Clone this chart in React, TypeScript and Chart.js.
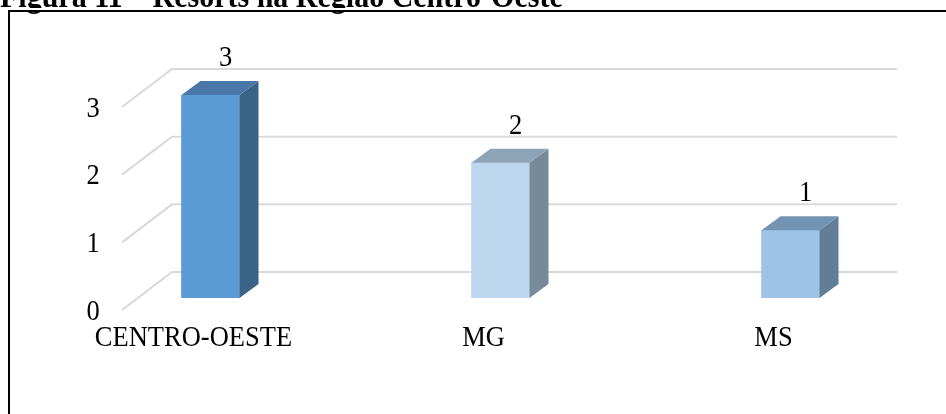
import { useEffect, useRef } from 'react';
import { Chart, registerables } from 'chart.js';

Chart.register(...registerables);

// ---- data ----
const title = 'Figura 11 – Resorts na Região Centro-Oeste';
const categories = ['CENTRO-OESTE', 'MG', 'MS'];
const resorts = [3, 2, 1];
const axisMax = 3;
const axisStep = 1;

// ---- styles ----
const FRONT = ['#5B9BD5', '#BDD7EE', '#9DC3E6'];
const TOP = ['#4877A8', '#8DA3B7', '#7393B3'];
const SIDE = ['#396387', '#778A9B', '#617D98'];
const GRID = '#d9d9d9';
const TEXT = '#000000';
const FONT = '"Liberation Serif", "Times New Roman", serif';
const LABEL_SIZE = 26.5;
const TEXT_STRETCH = 1.1; // glyphs are slightly taller than wide

// box depth of each bar
const DEPTH_X = 19;
const DEPTH_Y = 14;
// floor edges relative to the plane the bars stand on
const FLOOR_FRONT = { dx: -16, dy: 12 };
const FLOOR_BACK = { dx: 34, dy: -26 };

function drawText(ctx: CanvasRenderingContext2D, text: string, x: number, baseline: number) {
  ctx.save();
  ctx.translate(x, baseline);
  ctx.scale(1, TEXT_STRETCH);
  ctx.fillText(text, 0, 0);
  ctx.restore();
}

const threeD = {
  id: 'threeD',
  beforeDraw(chart: any) {
    const { ctx, width, height } = chart;
    ctx.save();
    ctx.fillStyle = '#ffffff';
    ctx.fillRect(0, 0, width, height);
    // heading, partly above the frame
    ctx.fillStyle = TEXT;
    ctx.font = `bold 30px ${FONT}`;
    ctx.textAlign = 'left';
    ctx.textBaseline = 'alphabetic';
    drawText(ctx, title, 0, 7);
    // frame
    ctx.fillStyle = '#ffffff';
    ctx.fillRect(0, 8, width, 2);
    ctx.fillStyle = '#000000';
    ctx.fillRect(8, 10, width, 2);
    ctx.fillRect(8, 10, 2, height);
    ctx.restore();
  },
  beforeDatasetsDraw(chart: any) {
    const { ctx, chartArea } = chart;
    const y = chart.scales.y;
    const l = chartArea.left;
    const r = chartArea.right;
    const values: number[] = y.ticks && y.ticks.length
      ? y.ticks.map((t: any) => t.value)
      : [];
    ctx.save();
    ctx.strokeStyle = GRID;
    ctx.lineWidth = 2;
    ctx.fillStyle = TEXT;
    ctx.font = `${LABEL_SIZE}px ${FONT}`;
    ctx.textAlign = 'center';
    ctx.textBaseline = 'alphabetic';
    values.forEach((v) => {
      const py = y.getPixelForValue(v);
      ctx.beginPath();
      ctx.moveTo(l + FLOOR_FRONT.dx, py + FLOOR_FRONT.dy);
      ctx.lineTo(l + FLOOR_BACK.dx, py + FLOOR_BACK.dy);
      ctx.lineTo(r + FLOOR_BACK.dx, py + FLOOR_BACK.dy);
      ctx.stroke();
      drawText(ctx, String(v), l - 45, py + FLOOR_FRONT.dy + 9.5);
    });
    ctx.restore();
  },
  afterDatasetsDraw(chart: any) {
    const { ctx } = chart;
    const meta = chart.getDatasetMeta(0);
    ctx.save();
    meta.data.forEach((el: any, i: number) => {
      const { x, y, base, width } = el.getProps(['x', 'y', 'base', 'width'], true);
      const x0 = x - width / 2;
      const x1 = x + width / 2;
      // side face
      ctx.fillStyle = SIDE[i];
      ctx.beginPath();
      ctx.moveTo(x1, y);
      ctx.lineTo(x1 + DEPTH_X, y - DEPTH_Y);
      ctx.lineTo(x1 + DEPTH_X, base - DEPTH_Y);
      ctx.lineTo(x1, base);
      ctx.closePath();
      ctx.fill();
      // top face
      ctx.fillStyle = TOP[i];
      ctx.beginPath();
      ctx.moveTo(x0, y);
      ctx.lineTo(x0 + DEPTH_X, y - DEPTH_Y);
      ctx.lineTo(x1 + DEPTH_X, y - DEPTH_Y);
      ctx.lineTo(x1, y);
      ctx.closePath();
      ctx.fill();

      ctx.fillStyle = TEXT;
      ctx.font = `${LABEL_SIZE}px ${FONT}`;
      ctx.textAlign = 'center';
      ctx.textBaseline = 'alphabetic';
      // value label
      drawText(ctx, String(resorts[i]), x + 15, y - 29);
      // category label
      drawText(ctx, categories[i], x - 17, base + 48);
    });
    ctx.restore();
  },
};

export default function App() {
  const ref = useRef<HTMLCanvasElement>(null);

  useEffect(() => {
    if (!ref.current) return;
    const chart = new Chart(ref.current, {
      type: 'bar',
      data: {
        labels: categories,
        datasets: [
          {
            label: 'Resorts',
            data: resorts.map((v, i) => ({ x: i, y: v })) as any,
            backgroundColor: FRONT,
            borderWidth: 0,
            barThickness: 58,
          },
        ],
      },
      options: {
        responsive: false,
        animation: false,
        events: [],
        layout: { padding: { left: 138, right: 83, top: 95, bottom: 116 } },
        plugins: {
          legend: { display: false },
          tooltip: { enabled: false },
          title: { display: false },
        },
        scales: {
          x: {
            type: 'linear',
            min: -0.25,
            max: 2.25,
            offset: false,
            grid: { offset: false },
            display: false,
          },
          y: {
            type: 'linear',
            min: 0,
            max: axisMax,
            display: false,
            ticks: { stepSize: axisStep },
          },
        },
      },
      plugins: [threeD],
    });
    return () => chart.destroy();
  }, []);

  return (
    <div
      style={{
        position: 'fixed',
        left: 0,
        top: 0,
        width: 946,
        height: 414,
        overflow: 'hidden',
        background: '#ffffff',
      }}
    >
      <canvas ref={ref} width={946} height={414} style={{ display: 'block', width: 946, height: 414 }} />
    </div>
  );
}
